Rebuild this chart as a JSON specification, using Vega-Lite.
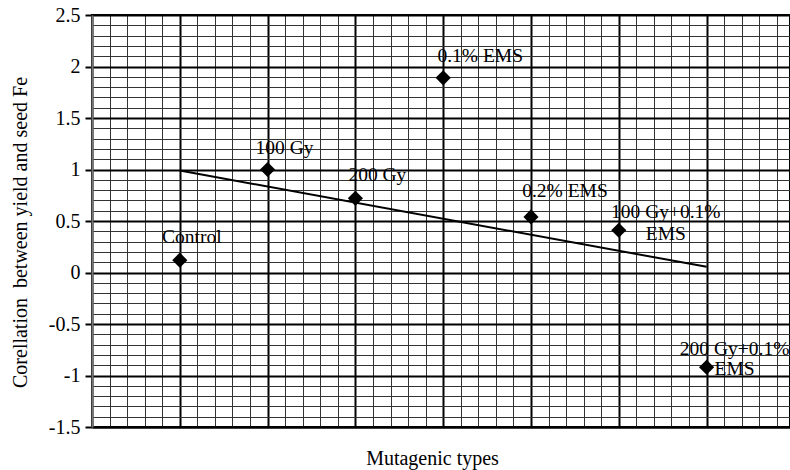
{
  "$schema": "https://vega.github.io/schema/vega-lite/v6.json",
  "width": 698,
  "height": 412,
  "autosize": "none",
  "padding": {"left": 92, "top": 15, "right": 0, "bottom": 43},
  "background": "white",
  "config": {
    "view": {"stroke": "black", "strokeWidth": 2},
    "font": "Liberation Serif",
    "text": {"align": "center", "baseline": "alphabetic", "font": "Liberation Serif", "fontSize": 19.5, "lineBreak": "\n", "lineHeight": 21, "color": "black"}
  },
  "datasets": {
    "pts": [
      {"label": "Control", "x": 1, "y": 0.12},
      {"label": "100 Gy", "x": 2, "y": 1.0},
      {"label": "200 Gy", "x": 3, "y": 0.72},
      {"label": "0.1% EMS", "x": 4, "y": 1.89},
      {"label": "0.2% EMS", "x": 5, "y": 0.54},
      {"label": "100 Gy+0.1%\nEMS", "x": 6, "y": 0.41},
      {"label": "200 Gy+0.1%\nEMS", "x": 7, "y": -0.92}
    ],
    "trend": [
      {"x": 1, "y": 0.99},
      {"x": 7, "y": 0.055}
    ]
  },
  "encoding": {
    "x": {
      "field": "x", "type": "quantitative",
      "scale": {"domain": [0, 7.95], "nice": false, "zero": false},
      "axis": {
        "values": [0,0.2,0.4,0.6,0.8,1,1.2,1.4,1.6,1.8,2,2.2,2.4,2.6,2.8,3,3.2,3.4,3.6,3.8,4,4.2,4.4,4.6,4.8,5,5.2,5.4,5.6,5.8,6,6.2,6.4,6.6,6.8,7,7.2,7.4,7.6,7.8],
        "labels": false, "ticks": false, "domain": true, "domainColor": "black", "domainWidth": 2,
        "grid": true,
        "gridColor": {"condition": {"test": "abs(datum.value - round(datum.value)) < 0.001", "value": "black"}, "value": "#333333"},
        "gridWidth": {"condition": {"test": "abs(datum.value - round(datum.value)) < 0.001", "value": 2}, "value": 1},
        "gridOpacity": 1,
        "title": "Mutagenic types",
        "titleFont": "Liberation Serif", "titleFontSize": 20, "titleFontWeight": "normal", "titleColor": "black",
        "titleX": 340, "titleY": 37, "titleBaseline": "alphabetic", "titleAlign": "center"
      }
    },
    "y": {
      "field": "y", "type": "quantitative",
      "scale": {"domain": [-1.5, 2.5], "nice": false, "zero": false},
      "axis": {
        "values": [-1.5,-1.4,-1.3,-1.2,-1.1,-1,-0.9,-0.8,-0.7,-0.6,-0.5,-0.4,-0.3,-0.2,-0.1,0,0.1,0.2,0.3,0.4,0.5,0.6,0.7,0.8,0.9,1,1.1,1.2,1.3,1.4,1.5,1.6,1.7,1.8,1.9,2,2.1,2.2,2.3,2.4,2.5],
        "labelExpr": "abs(datum.value*2 - round(datum.value*2)) < 0.001 ? '' + datum.value : ''",
        "labelOverlap": false, "labelBound": false,
        "labelFont": "Liberation Serif", "labelFontSize": 20, "labelColor": "black", "labelPadding": 5,
        "ticks": true, "tickSize": 7, "tickWidth": 2, "tickColor": "black",
        "tickOpacity": {"condition": {"test": "abs(datum.value*2 - round(datum.value*2)) < 0.001", "value": 1}, "value": 0},
        "domain": true, "domainColor": "#777777", "domainWidth": 2,
        "grid": true,
        "gridColor": {"condition": {"test": "abs(datum.value*2 - round(datum.value*2)) < 0.001", "value": "black"}, "value": "#333333"},
        "gridWidth": {"condition": {"test": "abs(datum.value*2 - round(datum.value*2)) < 0.001", "value": 2}, "value": 1},
        "gridOpacity": 1,
        "title": "Corellation\u00a0 between yield and seed Fe",
        "titleFont": "Liberation Serif", "titleFontSize": 20, "titleFontWeight": "normal", "titleColor": "black",
        "titleX": -66, "titleY": 217, "titleAngle": -90, "titleBaseline": "alphabetic", "titleAlign": "center"
      }
    }
  },
  "layer": [
    {"data": {"name": "trend"}, "mark": {"type": "line", "color": "black", "strokeWidth": 2}},
    {"data": {"name": "pts"}, "mark": {"type": "point", "shape": "diamond", "filled": true, "color": "black", "opacity": 1, "size": 230}},
    {"data": {"name": "pts"}, "transform": [{"filter": "datum.x === 1"}], "mark": {"type": "text", "dx": 12, "dy": -17}, "encoding": {"text": {"field": "label"}}},
    {"data": {"name": "pts"}, "transform": [{"filter": "datum.x === 2"}], "mark": {"type": "text", "dx": 17, "dy": -16}, "encoding": {"text": {"field": "label"}}},
    {"data": {"name": "pts"}, "transform": [{"filter": "datum.x === 3"}], "mark": {"type": "text", "dx": 22, "dy": -17}, "encoding": {"text": {"field": "label"}}},
    {"data": {"name": "pts"}, "transform": [{"filter": "datum.x === 4"}], "mark": {"type": "text", "dx": 37, "dy": -16}, "encoding": {"text": {"field": "label"}}},
    {"data": {"name": "pts"}, "transform": [{"filter": "datum.x === 5"}], "mark": {"type": "text", "dx": 34, "dy": -20}, "encoding": {"text": {"field": "label"}}},
    {"data": {"name": "pts"}, "transform": [{"filter": "datum.x === 6"}], "mark": {"type": "text", "dx": 47, "dy": -12, "lineHeight": 22}, "encoding": {"text": {"field": "label"}}},
    {"data": {"name": "pts"}, "transform": [{"filter": "datum.x === 7"}], "mark": {"type": "text", "dx": 28, "dy": -12, "lineHeight": 20}, "encoding": {"text": {"field": "label"}}}
  ]
}
